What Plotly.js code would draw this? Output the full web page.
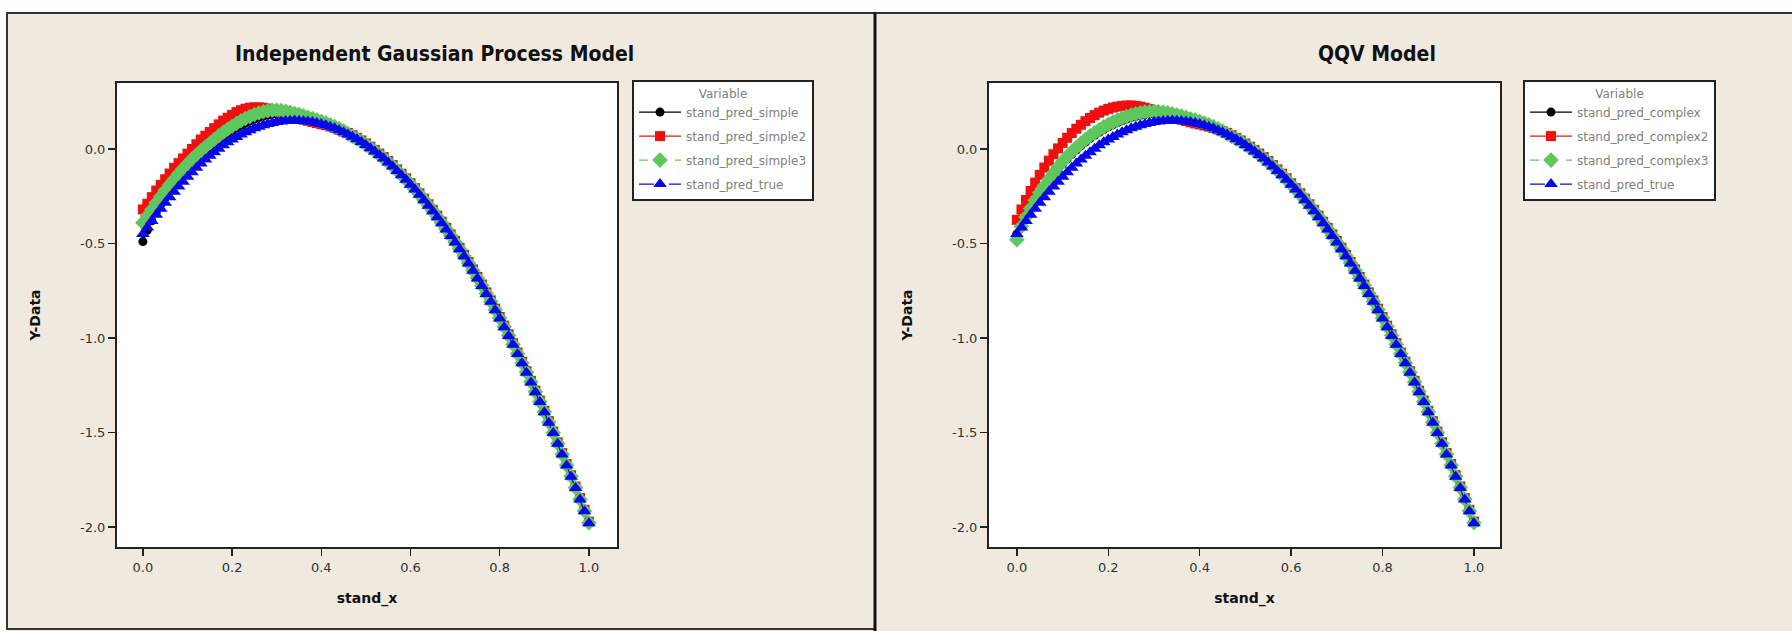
<!DOCTYPE html>
<html>
<head>
<meta charset="utf-8">
<script src="https://cdn.plot.ly/plotly-3.0.1.min.js"></script>
<style>html,body{margin:0;padding:0;background:#fff;}#chart{width:1792px;height:631px;}</style>
</head>
<body>
<div id="chart"></div>
<script>
// ---------------- data ----------------
const stand_x = [0,0.01,0.02,0.03,0.04,0.05,0.06,0.07,0.08,0.09,0.10,0.11,0.12,0.13,0.14,0.15,0.16,0.17,0.18,0.19,0.20,0.21,0.22,0.23,0.24,0.25,0.26,0.27,0.28,0.29,0.30,0.31,0.32,0.33,0.34,0.35,0.36,0.37,0.38,0.39,0.40,0.41,0.42,0.43,0.44,0.45,0.46,0.47,0.48,0.49,0.50,0.51,0.52,0.53,0.54,0.55,0.56,0.57,0.58,0.59,0.60,0.61,0.62,0.63,0.64,0.65,0.66,0.67,0.68,0.69,0.70,0.71,0.72,0.73,0.74,0.75,0.76,0.77,0.78,0.79,0.80,0.81,0.82,0.83,0.84,0.85,0.86,0.87,0.88,0.89,0.90,0.91,0.92,0.93,0.94,0.95,0.96,0.97,0.98,0.99,1.00];

const stand_pred_true = [-0.450,-0.415,-0.381,-0.348,-0.316,-0.285,-0.256,-0.227,-0.199,-0.173,-0.147,-0.123,-0.100,-0.077,-0.056,-0.036,-0.017,0.001,0.019,0.035,0.050,0.063,0.076,0.088,0.099,0.109,0.117,0.125,0.132,0.137,0.142,0.145,0.148,0.149,0.150,0.149,0.148,0.145,0.142,0.137,0.132,0.125,0.118,0.109,0.099,0.089,
 0.077,0.065,0.051,0.037,0.021,0.004,-0.013,-0.032,-0.051,-0.072,-0.093,-0.116,-0.139,-0.163,-0.189,-0.215,-0.242,-0.271,-0.300,-0.330,-0.361,-0.393,-0.426,-0.460,-0.495,-0.531,-0.568,-0.606,-0.645,-0.685,-0.725,-0.767,-0.809,-0.853,-0.897,-0.943,-0.989,-1.036,-1.085,-1.134,-1.184,-1.235,-1.287,-1.339,-1.393,-1.448,-1.503,-1.560,-1.617,-1.675,-1.734,-1.794,-1.855,-1.917,-1.980];

// x = 0.00 ... 0.45 (rising part, where the models differ)
const simple_head   = [-0.49,-0.43,-0.38,-0.335,-0.295,-0.258,-0.223,-0.19,-0.16,-0.13,-0.102,-0.076,-0.052,-0.03,-0.008,0.012,0.031,0.049,0.066,0.082,0.097,0.111,0.124,0.136,0.147,0.157,0.166,0.173,0.179,0.183,0.185,0.186,0.185,0.183,0.18,0.176,0.171,0.165,0.159,0.152,0.144,0.136,0.127,0.117,0.106,0.094];
const simple2_head  = [-0.32,-0.29,-0.255,-0.22,-0.19,-0.16,-0.13,-0.10,-0.075,-0.05,-0.025,0.0,0.025,0.05,0.07,0.09,0.11,0.13,0.15,0.165,0.18,0.195,0.205,0.213,0.218,0.22,0.22,0.218,0.214,0.208,0.2,0.192,0.184,0.176,0.168,0.161,0.155,0.149,0.143,0.137,0.131,0.126,0.119,0.111,0.102,0.092];
const simple3_head  = [-0.39,-0.355,-0.32,-0.285,-0.252,-0.22,-0.19,-0.16,-0.132,-0.105,-0.08,-0.055,-0.032,-0.01,0.01,0.03,0.05,0.069,0.087,0.104,0.12,0.135,0.149,0.161,0.172,0.182,0.19,0.197,0.202,0.205,0.205,0.203,0.199,0.194,0.188,0.182,0.175,0.168,0.161,0.153,0.145,0.137,0.128,0.118,0.107,0.095];
const complex_head  = [-0.45,-0.405,-0.36,-0.318,-0.278,-0.24,-0.204,-0.17,-0.138,-0.108,-0.08,-0.054,-0.029,-0.006,0.016,0.036,0.055,0.072,0.088,0.103,0.116,0.128,0.139,0.149,0.158,0.166,0.173,0.178,0.182,0.185,0.186,0.186,0.184,0.181,0.177,0.172,0.167,0.161,0.155,0.148,0.141,0.133,0.125,0.116,0.105,0.093];
const complex2_head = [-0.375,-0.32,-0.27,-0.222,-0.178,-0.137,-0.098,-0.062,-0.028,0.003,0.032,0.059,0.084,0.107,0.128,0.147,0.164,0.179,0.192,0.203,0.212,0.219,0.224,0.228,0.23,0.23,0.228,0.224,0.218,0.211,0.203,0.195,0.187,0.178,0.17,0.162,0.155,0.148,0.141,0.135,0.13,0.124,0.118,0.111,0.103,0.094];
const complex3_head = [-0.48,-0.41,-0.36,-0.315,-0.272,-0.232,-0.195,-0.16,-0.127,-0.096,-0.067,-0.04,-0.015,0.008,0.03,0.05,0.069,0.086,0.102,0.117,0.13,0.142,0.153,0.163,0.172,0.18,0.186,0.191,0.195,0.197,0.198,0.197,0.195,0.191,0.186,0.18,0.174,0.167,0.16,0.153,0.145,0.137,0.128,0.118,0.107,0.095];

// x = 0.46 ... 1.00 (falling part, where all models sit on the true curve)
const tail_near = [0.079,0.067,0.053,0.039,0.023,0.006,-0.011,-0.030,-0.049,-0.070,-0.091,-0.114,-0.137,-0.161,-0.187,-0.213,-0.240,-0.269,-0.298,-0.328,-0.359,-0.391,-0.424,-0.458,-0.493,-0.529,-0.566,-0.604,-0.643,-0.683,-0.723,-0.765,-0.807,-0.851,-0.895,-0.941,-0.987,-1.034,-1.083,-1.132,-1.182,-1.233,-1.285,-1.337,-1.391,-1.446,-1.501,-1.558,-1.615,-1.673,-1.732,-1.792,-1.853,-1.915,-1.978];
const tail_red  = [0.085,0.073,0.059,0.045,0.029,0.012,-0.005,-0.024,-0.043,-0.064,-0.085,-0.108,-0.131,-0.155,-0.181,-0.207,-0.234,-0.263,-0.292,-0.322,-0.353,-0.385,-0.418,-0.452,-0.487,-0.523,-0.560,-0.598,-0.637,-0.677,-0.717,-0.759,-0.801,-0.845,-0.889,-0.935,-0.981,-1.028,-1.077,-1.126,-1.176,-1.227,-1.279,-1.331,-1.385,-1.440,-1.495,-1.552,-1.609,-1.667,-1.726,-1.786,-1.847,-1.909,-1.972];

const stand_pred_simple   = simple_head.concat(tail_near);
const stand_pred_simple2  = simple2_head.concat(tail_red);
const stand_pred_simple3  = simple3_head.concat(tail_near);
const stand_pred_complex  = complex_head.concat(tail_near);
const stand_pred_complex2 = complex2_head.concat(tail_red);
const stand_pred_complex3 = complex3_head.concat(tail_near);

const xTickVals = [0, 0.2, 0.4, 0.6, 0.8, 1.0];
const xTickText = ['0.0', '0.2', '0.4', '0.6', '0.8', '1.0'];
const yTickVals = [0, -0.5, -1.0, -1.5, -2.0];
const yTickText = ['0.0', '-0.5', '-1.0', '-1.5', '-2.0'];

const leftTitle = 'Independent Gaussian Process Model';
const rightTitle = 'QQV Model';
const leftNames = ['stand_pred_simple', 'stand_pred_simple2', 'stand_pred_simple3', 'stand_pred_true'];
const rightNames = ['stand_pred_complex', 'stand_pred_complex2', 'stand_pred_complex3', 'stand_pred_true'];

// ---------------- layout helpers ----------------
const W = 1792, H = 631;
const px = v => v / W;
const py = v => 1 - v / H;

const styles = [
  {color: '#000000', symbol: 'circle', size: 9, dash: 'solid'},
  {color: '#f01010', symbol: 'square', size: 10, dash: 'solid'},
  {color: '#5ec85e', symbol: 'diamond', size: 12, dash: 'dash'},
  {color: '#0808e8', symbol: 'triangle-up', size: 12, dash: 'longdash'}
];

function mk(name, y, i, xa, ya, lg) {
  const s = styles[i];
  return {
    type: 'scatter', mode: 'lines+markers', name: name, x: stand_x, y: y,
    xaxis: xa, yaxis: ya, legend: lg, legendgroup: lg + '_' + i,
    line: {color: s.color, width: 1.2, dash: s.dash},
    marker: {color: s.color, symbol: s.symbol, size: s.size, line: {width: 0}}
  };
}

const data = [
  mk(leftNames[0], stand_pred_simple, 0, 'x', 'y', 'legend'),
  mk(leftNames[1], stand_pred_simple2, 1, 'x', 'y', 'legend'),
  mk(leftNames[2], stand_pred_simple3, 2, 'x', 'y', 'legend'),
  mk(leftNames[3], stand_pred_true, 3, 'x', 'y', 'legend'),
  mk(rightNames[0], stand_pred_complex, 0, 'x2', 'y2', 'legend2'),
  mk(rightNames[1], stand_pred_complex2, 1, 'x2', 'y2', 'legend2'),
  mk(rightNames[2], stand_pred_complex3, 2, 'x2', 'y2', 'legend2'),
  mk(rightNames[3], stand_pred_true, 3, 'x2', 'y2', 'legend2')
];

const tickFont = {family: 'DejaVu Sans, Verdana, sans-serif', size: 13, color: '#333'};
const axTitleFont = {family: 'DejaVu Sans, Verdana, sans-serif', size: 14, color: '#111'};

function xAxis(domain, range, anchor) {
  return {
    domain: domain, range: range, anchor: anchor,
    showline: true, mirror: true, linecolor: '#222', linewidth: 2,
    ticks: 'outside', ticklen: 7, tickwidth: 1.5, tickcolor: '#222',
    showgrid: false, zeroline: false,
    tickmode: 'array', tickvals: xTickVals, ticktext: xTickText, tickfont: tickFont,
    title: {text: '<b>stand_x</b>', font: axTitleFont, standoff: 20}
  };
}
function yAxis(domain, range, anchor) {
  return {
    domain: domain, range: range, anchor: anchor,
    showline: true, mirror: true, linecolor: '#222', linewidth: 2,
    ticks: 'outside', ticklen: 7, tickwidth: 1.5, tickcolor: '#222',
    showgrid: false, zeroline: false,
    tickmode: 'array', tickvals: yTickVals, ticktext: yTickText, tickfont: tickFont,
    title: {text: '<b>Y-Data</b>', font: axTitleFont, standoff: 36}
  };
}

function legendCfg(xl) {
  return {
    x: px(xl), y: py(80), xanchor: 'left', yanchor: 'top',
    bgcolor: '#ffffff', bordercolor: '#222', borderwidth: 2,
    font: {family: 'DejaVu Sans, Verdana, sans-serif', size: 12, color: '#808080'},
    title: {text: 'Variable', side: 'top center', font: {family: 'DejaVu Sans, Verdana, sans-serif', size: 12, color: '#808080'}},
    tracegroupgap: 5, itemwidth: 42, itemclick: false
  };
}

const yDom = [py(547), py(83)];
const yRange = [-2.106, 0.349];

const layout = {
  width: W, height: H,
  margin: {l: 0, r: 0, t: 0, b: 0},
  paper_bgcolor: '#efe9df',
  plot_bgcolor: '#ffffff',
  showlegend: true,
  xaxis: xAxis([px(117), px(617)], [-0.058, 1.063], 'y'),
  yaxis: yAxis(yDom, yRange, 'x'),
  xaxis2: xAxis([px(989), px(1500)], [-0.061, 1.057], 'y2'),
  yaxis2: yAxis(yDom, yRange, 'x2'),
  legend: legendCfg(632),
  legend2: legendCfg(1523),
  annotations: [
    {text: '<b>' + leftTitle + '</b>', xref: 'paper', yref: 'paper', x: px(434), y: py(54),
     xanchor: 'center', yanchor: 'middle', showarrow: false,
     font: {family: 'Liberation Sans Narrow, DejaVu Sans Condensed, Arial Narrow, sans-serif', size: 21, color: '#111'}},
    {text: '<b>' + rightTitle + '</b>', xref: 'paper', yref: 'paper', x: px(1377), y: py(54),
     xanchor: 'center', yanchor: 'middle', showarrow: false,
     font: {family: 'Liberation Sans Narrow, DejaVu Sans Condensed, Arial Narrow, sans-serif', size: 21, color: '#111'}}
  ],
  shapes: [
    {type: 'rect', xref: 'paper', yref: 'paper', x0: 0, x1: 1, y0: py(12), y1: 1, fillcolor: '#fdfdfb', line: {width: 0}, layer: 'below'},
    {type: 'rect', xref: 'paper', yref: 'paper', x0: 0, x1: px(6), y0: 0, y1: 1, fillcolor: '#fdfdfb', line: {width: 0}, layer: 'below'},
    {type: 'rect', xref: 'paper', yref: 'paper', x0: px(7), x1: px(875), y0: py(629), y1: py(13), line: {color: '#333', width: 2}, fillcolor: 'rgba(0,0,0,0)'},
    {type: 'line', xref: 'paper', yref: 'paper', x0: px(875), x1: px(875), y0: 0, y1: py(12), line: {color: '#111', width: 3}},
    {type: 'line', xref: 'paper', yref: 'paper', x0: px(876), x1: 1, y0: py(13), y1: py(13), line: {color: '#333', width: 2}}
  ]
};

Plotly.newPlot('chart', data, layout, {displayModeBar: false, staticPlot: true});
</script>
</body>
</html>
